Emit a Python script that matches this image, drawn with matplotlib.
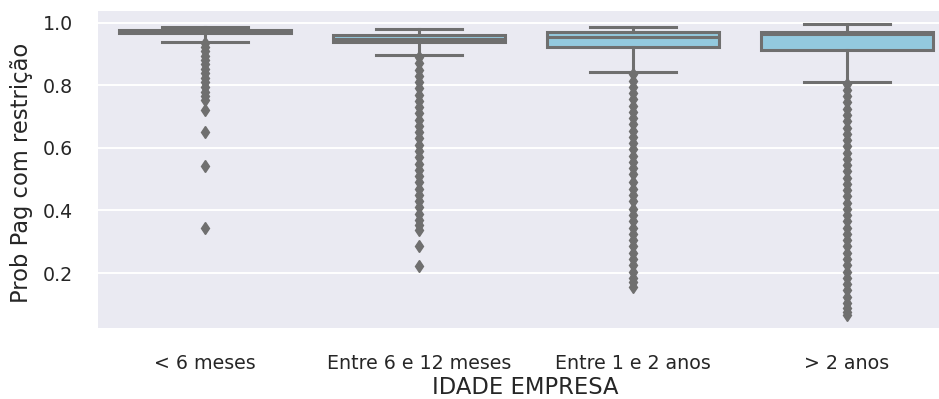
import matplotlib.pyplot as plt

categorias = ["< 6 meses", "Entre 6 e 12 meses", "Entre 1 e 2 anos", "> 2 anos"]

# estatísticas das caixas por faixa de idade da empresa
q1 = [0.966, 0.939, 0.923, 0.912]
mediana = [0.972, 0.948, 0.955, 0.963]
q3 = [0.978, 0.961, 0.970, 0.970]
bigode_inf = [0.939, 0.897, 0.843, 0.811]
bigode_sup = [0.987, 0.980, 0.987, 0.996]

# outliers (abaixo do bigode inferior)
out_6m = [0.935, 0.922, 0.908, 0.895, 0.882, 0.868, 0.852, 0.838, 0.822,
          0.81, 0.795, 0.78, 0.765, 0.752, 0.72, 0.652, 0.543, 0.345]
out_6_12m = [0.89, 0.87, 0.85, 0.83, 0.81, 0.79, 0.77, 0.75, 0.73, 0.71,
             0.69, 0.67, 0.65, 0.63, 0.61, 0.59, 0.57, 0.55, 0.53, 0.51,
             0.49, 0.47, 0.45, 0.43, 0.41, 0.39, 0.37, 0.355, 0.338,
             0.287, 0.222]
out_1_2a = [0.835, 0.815, 0.795, 0.775, 0.755, 0.735, 0.715, 0.695, 0.675,
            0.655, 0.635, 0.615, 0.595, 0.575, 0.555, 0.535, 0.515, 0.49,
            0.47, 0.45, 0.43, 0.405, 0.385, 0.365, 0.345, 0.325, 0.305,
            0.285, 0.265, 0.245, 0.225, 0.205, 0.185, 0.17, 0.157]
out_2a = [0.805, 0.785, 0.765, 0.745, 0.725, 0.705, 0.685, 0.665, 0.645,
          0.625, 0.605, 0.585, 0.565, 0.545, 0.525, 0.505, 0.485, 0.465,
          0.445, 0.425, 0.405, 0.385, 0.365, 0.345, 0.325, 0.305, 0.285,
          0.265, 0.245, 0.225, 0.205, 0.185, 0.165, 0.145, 0.125, 0.105,
          0.088, 0.075, 0.066]
outliers = [out_6m, out_6_12m, out_1_2a, out_2a]

cinza = "#6f6f6f"
azul = "#93c9de"

stats = []
for i, nome in enumerate(categorias):
    stats.append(dict(label=nome, q1=q1[i], med=mediana[i], q3=q3[i],
                      whislo=bigode_inf[i], whishi=bigode_sup[i],
                      fliers=outliers[i]))

fig = plt.figure(figsize=(9.39, 3.99), dpi=100)
ax = fig.add_axes([0.1044, 0.178, 0.9116, 0.7945])
ax.set_facecolor("#EAEAF2")
for s in ax.spines.values():
    s.set_visible(False)

lw = 2.2
ax.bxp(stats, positions=range(len(categorias)), widths=0.8, capwidths=0.4,
       patch_artist=True,
       boxprops=dict(facecolor=azul, edgecolor=cinza, linewidth=lw),
       medianprops=dict(color=cinza, linewidth=lw),
       whiskerprops=dict(color=cinza, linewidth=lw),
       capprops=dict(color=cinza, linewidth=lw),
       flierprops=dict(marker="d", markerfacecolor=cinza,
                       markeredgecolor=cinza, markersize=6.5))

ax.set_axisbelow(True)
ax.yaxis.grid(True, color="white", linewidth=1.4)
ax.xaxis.grid(False)
ax.set_xlim(-0.5, 3.5)
ax.set_ylim(0.0246, 1.0374)
ax.set_yticks([0.2, 0.4, 0.6, 0.8, 1.0])
ax.set_xticks(range(len(categorias)))
ax.set_xticklabels(categorias)
ax.tick_params(axis="both", length=0, labelsize=13.7, colors="#262626")
ax.tick_params(axis="x", pad=19)
ax.tick_params(axis="y", pad=18)

ax.set_ylabel("Prob Pag com restrição", fontsize=16.3, color="#262626")
ax.set_xlabel("IDADE EMPRESA", fontsize=16.3, color="#262626")
ax.yaxis.set_label_coords(-0.0759, 0.49)
ax.xaxis.set_label_coords(0.499, -0.1505)

fig.savefig("out.png", dpi=100)
